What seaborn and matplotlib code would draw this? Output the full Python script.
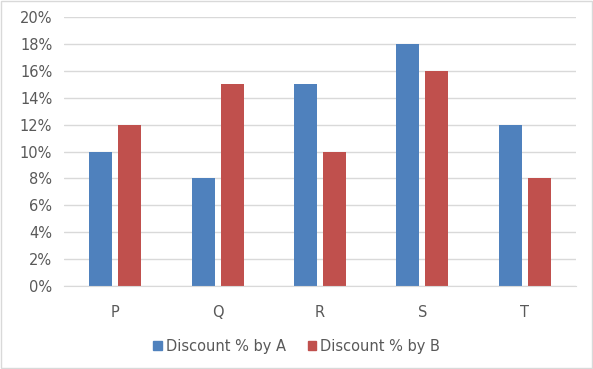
import pandas as pd
import seaborn as sns
import matplotlib.pyplot as plt
from matplotlib.patches import Rectangle
from matplotlib.ticker import MultipleLocator, PercentFormatter

categories = ["P", "Q", "R", "S", "T"]
discount_a = [10, 8, 15, 18, 12]
discount_b = [12, 15, 10, 16, 8]
series_names = ["Discount % by A", "Discount % by B"]

df = pd.DataFrame({
    "cat": categories * 2,
    "value": discount_a + discount_b,
    "series": [series_names[0]] * 5 + [series_names[1]] * 5,
})

sns.set_style("white")
plt.rcParams["font.family"] = ["DejaVu Sans"]
text_col = "#595959"
grid_col = "#D9D9D9"

fig = plt.figure(figsize=(5.93, 3.69), dpi=100)
ax = fig.add_axes([64 / 593, 1 - 286 / 369, 512 / 593, 269 / 369])

sns.barplot(data=df, x="cat", y="value", hue="series",
            palette=["#4F81BD", "#C0504D"], width=0.566, gap=0.207,
            saturation=1, ax=ax, legend=False, zorder=3,
            linewidth=0, edgecolor="none")

ax.set_ylim(0, 20)
ax.set_xlim(-0.5, 4.5)
ax.yaxis.set_major_locator(MultipleLocator(2))
ax.yaxis.set_major_formatter(PercentFormatter(decimals=0))
ax.grid(axis="y", color=grid_col, linewidth=1, zorder=0)
ax.set_xlabel("")
ax.set_ylabel("")
for s in ["left", "right", "top"]:
    ax.spines[s].set_visible(False)
ax.spines["bottom"].set_color(grid_col)
ax.spines["bottom"].set_zorder(4)
ax.tick_params(axis="y", length=0, pad=8.5, labelsize=10.5, labelcolor=text_col)
ax.tick_params(axis="x", length=0, pad=14, labelsize=10.5, labelcolor=text_col)

handles = [Rectangle((0, 0), 1, 1, color=c) for c in ["#4F81BD", "#C0504D"]]
fig.legend(handles, series_names, loc="center", bbox_to_anchor=(0.5, 1 - 346 / 369),
           ncol=2, frameon=False, fontsize=10.5, labelcolor=text_col,
           handlelength=0.6, handleheight=0.6, handletextpad=0.25, columnspacing=1.5)

fig.patches.append(Rectangle((0.001, 0.002), 0.997, 0.995, transform=fig.transFigure,
                             fill=False, edgecolor=grid_col, linewidth=1.0))

fig.savefig("out.png", dpi=100)
